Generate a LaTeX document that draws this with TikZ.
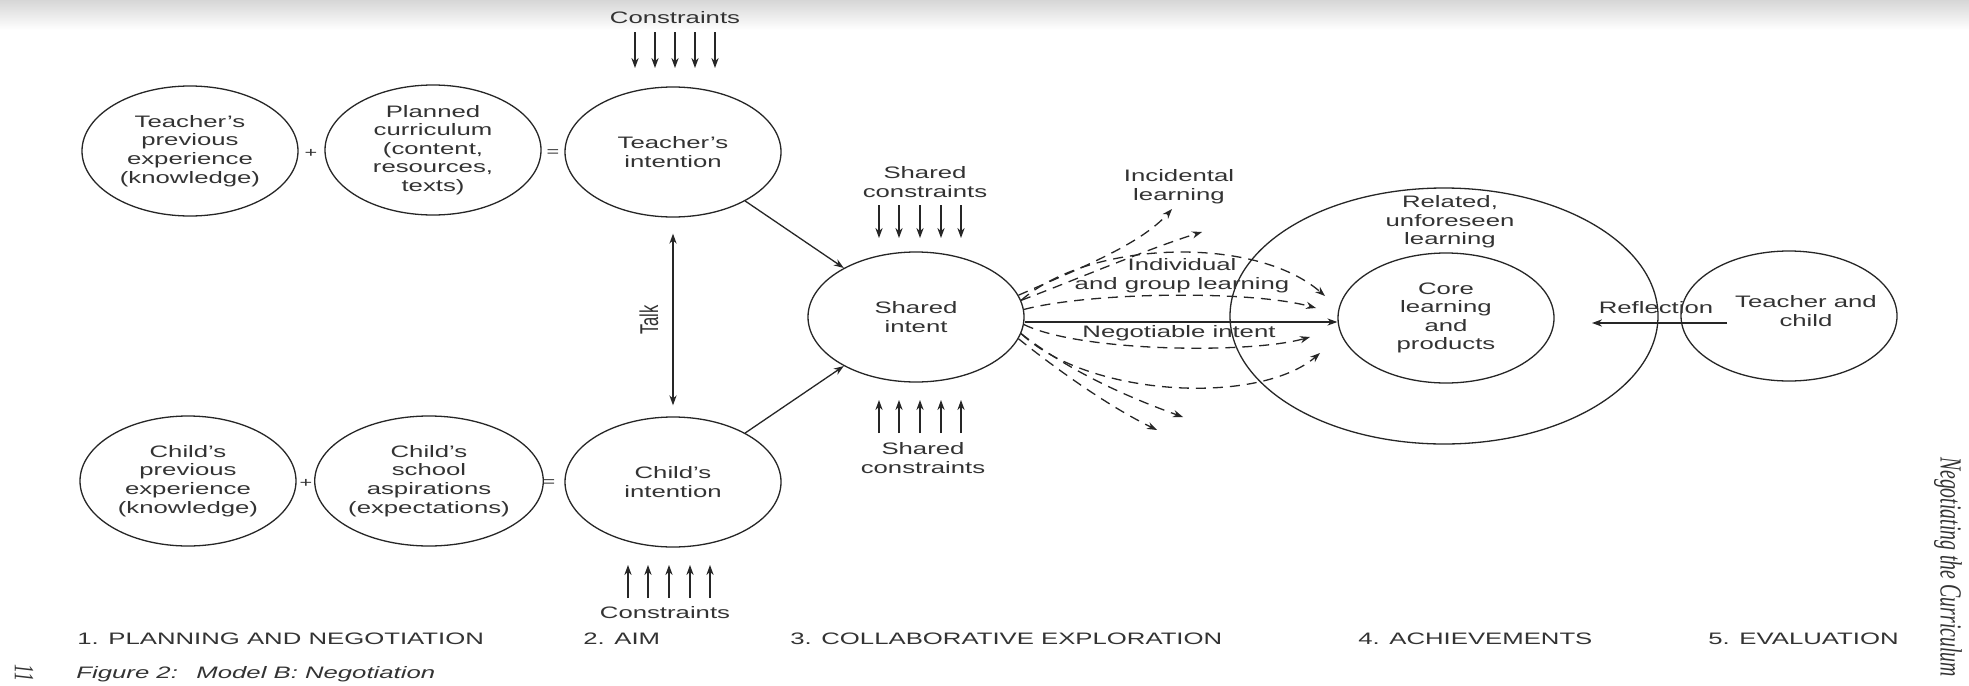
\documentclass[tikz,border=0pt]{standalone}
\usepackage{fontspec}
\setmainfont{Liberation Sans}[FakeStretch=1.55]
\newfontfamily\plainsans{Liberation Sans}
\newfontfamily\hdrserif{Liberation Serif}
\usetikzlibrary{shapes.geometric,arrows.meta}
\newcommand{\dgfont}{\fontsize{8.3}{9.3}\selectfont}
\colorlet{ink}{black!85}
\colorlet{inktext}{black!80}
\tikzset{
  ell/.style={draw=ink, line width=0.65pt, ellipse, minimum width=108pt, minimum height=65pt, inner sep=0pt, align=center, font=\dgfont, text=inktext},
  txt/.style={inner sep=0pt, align=center, font=\dgfont, text=inktext},
  lbl/.style={inner sep=0pt, anchor=base west, font=\dgfont, text=inktext},
  captxt/.style={inner sep=0pt, anchor=base west, font=\dgfont\itshape, text=inktext},
  sym/.style={inner sep=0pt, font=\fontsize{7}{8}\selectfont, text=inktext},
  arr/.style={draw=ink, line width=0.65pt, -{Stealth[length=5pt,width=3.6pt]}},
  arrboth/.style={draw=ink, line width=0.65pt, {Stealth[length=5pt,width=3.6pt]}-{Stealth[length=5pt,width=3.6pt]}},
  darr/.style={arr, dash pattern=on 5pt off 3.5pt},
  vtxt/.style={inner sep=0pt, text=inktext, xscale=1.55, transform shape},
}
\begin{document}
\begin{tikzpicture}[x=0.5pt,y=-0.5pt]
\useasboundingbox (0,0) rectangle (1969,685);
\fill[white] (0,0) rectangle (1969,685);
\shade[top color=black!16, bottom color=white] (0,0) rectangle (1969,30);

% ---- ellipses
\node[ell] (TPE) at (190,151) {Teacher’s\\previous\\experience\\(knowledge)};
\node[ell] (PC)  at (433,150) {Planned\\curriculum\\(content,\\resources,\\texts)};
\node[ell] (TI)  at (673,152) {Teacher’s\\intention};
\node[ell] (CPE) at (188,481) {Child’s\\previous\\experience\\(knowledge)};
\node[ell] (CSA) at (429,481) {Child’s\\school\\aspirations\\(expectations)};
\node[ell] (CI)  at (673,482) {Child’s\\intention};
\node[ell] (SI)  at (916,317) {Shared\\intent};
\node[ell, minimum width=214pt, minimum height=128pt] (OUT) at (1444,316) {};
\node[ell] (CORE) at (1446,318) {Core\\learning\\and\\products};
\node[ell] (TC) at (1789,316) {};
\node[txt] (TCt) at (1806,311) {Teacher and\\child};

% ---- + and =
\node[sym] (p1) at (311,153) {+};
\node[sym] (e1) at (553,153) {=};
\node[sym] (p2) at (306,483) {+};
\node[sym] (e2) at (549,483) {=};

% ---- constraints
\node[txt] (ctop) at (675,18) {Constraints};
\foreach \x in {635,655,675,695,715}{\draw[arr] (\x,32) -- (\x,68);}
\node[txt] (cbot) at (665,613) {Constraints};
\foreach \x in {628,648,669,690,710}{\draw[arr] (\x,598) -- (\x,565);}
\node[txt] (sctop) at (925,182) {Shared\\constraints};
\foreach \x in {879,899,920,941,961}{\draw[arr] (\x,205) -- (\x,238);}
\node[txt] (scbot) at (923,458) {Shared\\constraints};
\foreach \x in {879,899,920,941,961}{\draw[arr] (\x,433) -- (\x,400);}

% ---- talk
\draw[arrboth] ([yshift=-8pt]TI.south) -- ([yshift=5.5pt]CI.north);
\node[vtxt, font=\plainsans\fontsize{8.3}{9}\selectfont, rotate=90] (talk) at (649,320) {Talk};

% ---- intentions to shared intent
\draw[arr] (TI) -- (SI);
\draw[arr] (CI) -- (SI);

% ---- labels in exploration
\node[txt] (inc) at (1179,187) {Incidental\\learning};
\node[txt] (ind) at (1182,276) {Individual\\and group learning};
\node[txt] (neg) at (1179,333) {Negotiable intent};
\node[txt] (rel) at (1450,222) {Related,\\unforeseen\\learning};

% ---- dashed fan
\coordinate (tA) at (1172,209);
\coordinate (tB) at (1202,232);
\coordinate (tU1) at (1325,296);
\coordinate (tU2) at (1316,308);
\coordinate (tL2) at (1310,337);
\coordinate (tL1) at (1320,353);
\coordinate (tD) at (1183,417);
\coordinate (tC) at (1157,430);
\draw[darr] (SI.12) .. controls (1080,268) and (1140,245) .. (tA);
\draw[darr] (SI.9) .. controls (1080,278) and (1150,248) .. (tB);
\draw[darr] (SI.9) .. controls (1090,240) and (1255,235) .. (tU1);
\draw[darr] (SI.4) .. controls (1090,292) and (1250,290) .. (tU2);
\draw[arr] ([yshift=-2.5pt]SI.east) -- ([yshift=-2pt]CORE.west);
\draw[darr] (SI.-4) .. controls (1080,352) and (1250,354) .. (tL2);
\draw[darr] (SI.-9) .. controls (1090,398) and (1260,405) .. (tL1);
\draw[darr] (SI.-9) .. controls (1070,372) and (1130,398) .. (tD);
\draw[darr] (SI.-12) .. controls (1060,372) and (1110,407) .. (tC);

% ---- reflection
\node[txt] (refl) at (1656,308) {Reflection};
\coordinate (rS) at (1727,323);
\coordinate (rE) at (1592,323);
\draw[arr] (rS) -- (rE);

% ---- bottom labels
\node[lbl] (L1) at (77,644) {1. PLANNING AND NEGOTIATION};
\node[lbl] (L2) at (583,644) {2. AIM};
\node[lbl] (L3) at (790,644) {3. COLLABORATIVE EXPLORATION};
\node[lbl] (L4) at (1358,644) {4. ACHIEVEMENTS};
\node[lbl] (L5) at (1708,644) {5. EVALUATION};

% ---- caption
\node[captxt] (cap1) at (76,678) {Figure 2:};
\node[captxt] (cap2) at (196,678) {Model B: Negotiation};
\node[vtxt, font=\hdrserif\itshape\fontsize{9}{10}\selectfont, rotate=-90] (pgno) at (24,673) {11};
\node[vtxt, font=\hdrserif\itshape\fontsize{9.9}{11}\selectfont, rotate=-90] (hdr) at (1948,567) {Negotiating the Curriculum};
\end{tikzpicture}
\end{document}
